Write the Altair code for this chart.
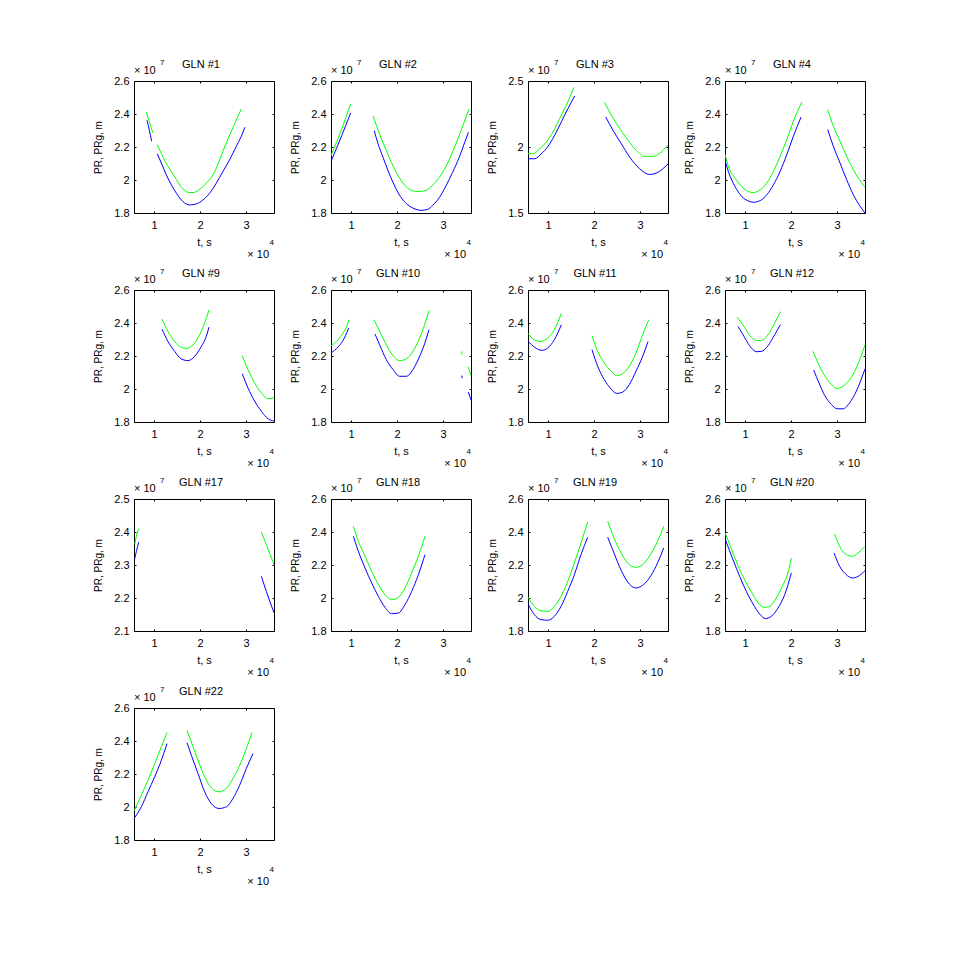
import altair as alt
import pandas as pd

# satellites in subplot order
GLN = [1, 2, 3, 4, 9, 10, 11, 12, 17, 18, 19, 20, 22]

# t in 1e4 s, PR / PRg in 1e7 m; None marks a break in the track
T_PR_1 = [0.848, 0.90, 0.949, None, 1.072, 1.159, 1.268, 1.377, 1.486, 1.63, 1.775, 1.92, 2.065, 2.21, 2.355, 2.5, 2.645, 2.79, 2.899, 2.978]
PR_1 = [2.362, 2.30, 2.235, None, 2.159, 2.103, 2.031, 1.971, 1.92, 1.869, 1.849, 1.855, 1.879, 1.92, 1.981, 2.052, 2.123, 2.204, 2.265, 2.32]
T_PRG_1 = [0.833, 0.90, 0.978, None, 1.072, 1.25, 1.45, 1.6, 1.75, 1.85, 2.0, 2.15, 2.283, 2.536, 2.72, 2.899]
PRG_1 = [2.413, 2.35, 2.285, None, 2.214, 2.11, 2.02, 1.955, 1.925, 1.924, 1.945, 1.985, 2.031, 2.20, 2.32, 2.43]

T_PR_2 = [0.565, 0.8, 0.993, None, 1.504, 1.59, 1.698, 1.806, 1.914, 2.022, 2.129, 2.273, 2.417, 2.525, 2.669, 2.777, 2.921, 3.065, 3.209, 3.353, 3.46, 3.554]
PR_2 = [2.112, 2.27, 2.407, None, 2.30, 2.218, 2.137, 2.056, 1.985, 1.924, 1.879, 1.842, 1.822, 1.816, 1.822, 1.847, 1.893, 1.964, 2.046, 2.137, 2.218, 2.289]
T_PRG_2 = [0.565, 0.8, 0.993, None, 1.482, 1.554, 1.662, 1.77, 1.878, 1.986, 2.094, 2.201, 2.345, 2.489, 2.633, 2.777, 2.921, 3.065, 3.209, 3.353, 3.46, 3.568]
PRG_2 = [2.148, 2.31, 2.462, None, 2.387, 2.33, 2.249, 2.178, 2.107, 2.046, 1.995, 1.96, 1.934, 1.93, 1.938, 1.969, 2.015, 2.082, 2.17, 2.27, 2.35, 2.43]

T_PR_3 = [0.565, 0.71, 0.855, 1.0, 1.145, 1.29, 1.435, 1.58, None, 2.254, 2.413, 2.594, 2.775, 2.993, 3.21, 3.355, 3.61]
PR_3 = [1.911, 1.911, 1.949, 2.005, 2.089, 2.19, 2.292, 2.386, None, 2.228, 2.127, 2.025, 1.924, 1.835, 1.792, 1.802, 1.872]
T_PRG_3 = [0.565, 0.674, 0.819, 0.964, 1.109, 1.254, 1.399, 1.565, None, 2.232, 2.377, 2.558, 2.739, 2.92, 3.101, 3.283, 3.464, 3.61]
PRG_3 = [1.949, 1.949, 1.987, 2.038, 2.114, 2.216, 2.317, 2.452, None, 2.338, 2.241, 2.14, 2.051, 1.975, 1.929, 1.929, 1.962, 2.015]

T_PR_4 = [0.565, 0.64, 0.784, 0.929, 1.074, 1.183, 1.328, 1.473, 1.618, 1.763, 1.908, 2.052, 2.219, None, 2.799, 2.922, 3.067, 3.212, 3.357, 3.61]
PR_4 = [2.12, 2.05, 1.96, 1.90, 1.873, 1.865, 1.875, 1.91, 1.971, 2.052, 2.153, 2.265, 2.381, None, 2.306, 2.204, 2.103, 2.001, 1.91, 1.80]
T_PRG_4 = [0.565, 0.64, 0.784, 0.929, 1.074, 1.183, 1.328, 1.473, 1.618, 1.763, 1.908, 2.052, 2.234, None, 2.799, 2.922, 3.067, 3.212, 3.357, 3.61]
PRG_4 = [2.155, 2.082, 2.011, 1.96, 1.93, 1.924, 1.94, 1.981, 2.052, 2.143, 2.245, 2.356, 2.472, None, 2.427, 2.326, 2.234, 2.143, 2.062, 1.955]

T_PR_9 = [1.174, 1.304, 1.449, 1.594, 1.739, 1.884, 2.029, 2.138, 2.196, None, 2.92, 3.043, 3.188, 3.333, 3.478, 3.61]
PR_9 = [2.363, 2.288, 2.228, 2.182, 2.172, 2.198, 2.258, 2.319, 2.375, None, 2.093, 2.007, 1.927, 1.866, 1.82, 1.806]
T_PRG_9 = [1.174, 1.304, 1.449, 1.594, 1.703, 1.848, 1.993, 2.101, 2.196, None, 2.92, 3.043, 3.188, 3.333, 3.478, 3.61]
PRG_9 = [2.423, 2.349, 2.288, 2.252, 2.246, 2.268, 2.329, 2.399, 2.479, None, 2.202, 2.118, 2.037, 1.977, 1.941, 1.947]

T_PR_10 = [0.565, 0.717, 0.826, 0.935, 0.95, None, 1.522, 1.623, 1.768, 1.913, 2.058, 2.203, 2.348, 2.493, 2.601, 2.696, None, 3.41, 3.418, None, 3.552, 3.61]
PR_10 = [2.218, 2.254, 2.294, 2.359, 2.369, None, 2.333, 2.268, 2.178, 2.118, 2.077, 2.077, 2.118, 2.198, 2.274, 2.359, None, 2.081, 2.065, None, 1.981, 1.933]
T_PRG_10 = [0.565, 0.717, 0.826, 0.935, 0.957, None, 1.5, 1.623, 1.768, 1.913, 2.058, 2.203, 2.348, 2.493, 2.601, 2.696, None, 3.41, 3.418, None, 3.552, 3.61]
PRG_10 = [2.262, 2.298, 2.339, 2.399, 2.419, None, 2.419, 2.349, 2.268, 2.202, 2.172, 2.182, 2.228, 2.309, 2.389, 2.475, None, 2.228, 2.208, None, 2.134, 2.081]

T_PR_11 = [0.565, 0.703, 0.87, 0.993, 1.138, 1.29, None, 1.957, 2.08, 2.225, 2.37, 2.494, 2.624, 2.769, 2.914, 3.059, 3.175]
PR_11 = [2.29, 2.254, 2.234, 2.248, 2.298, 2.389, None, 2.238, 2.138, 2.057, 2.001, 1.973, 1.981, 2.027, 2.108, 2.198, 2.288]
T_PRG_11 = [0.565, 0.703, 0.848, 0.993, 1.138, 1.29, None, 1.957, 2.08, 2.225, 2.37, 2.494, 2.624, 2.769, 2.914, 3.059, 3.19]
PRG_11 = [2.337, 2.298, 2.288, 2.309, 2.359, 2.459, None, 2.323, 2.228, 2.158, 2.108, 2.081, 2.093, 2.138, 2.218, 2.329, 2.419]

T_PR_12 = [0.848, 0.957, 1.102, 1.247, 1.355, 1.5, 1.645, 1.769, None, 2.494, 2.61, 2.733, 2.878, 3.001, 3.132, 3.277, 3.422, 3.61]
PR_12 = [2.379, 2.329, 2.262, 2.226, 2.228, 2.262, 2.329, 2.389, None, 2.114, 2.037, 1.961, 1.907, 1.88, 1.88, 1.917, 1.987, 2.122]
T_PRG_12 = [0.826, 0.957, 1.102, 1.247, 1.355, 1.5, 1.645, 1.769, None, 2.479, 2.588, 2.733, 2.878, 3.001, 3.132, 3.277, 3.422, 3.61]
PRG_12 = [2.435, 2.389, 2.325, 2.294, 2.294, 2.329, 2.399, 2.469, None, 2.228, 2.158, 2.081, 2.027, 2.003, 2.017, 2.057, 2.128, 2.268]

T_PR_17 = [0.58, 0.616, 0.667, None, 3.335, 3.443, 3.61]
PR_17 = [2.319, 2.341, 2.369, None, 2.266, 2.22, 2.155]
T_PRG_17 = [0.58, 0.616, 0.667, None, 3.335, 3.443, 3.61]
PRG_17 = [2.362, 2.387, 2.41, None, 2.40, 2.362, 2.301]

T_PR_18 = [1.051, 1.16, 1.305, 1.45, 1.595, 1.74, 1.885, 2.03, 2.175, 2.32, 2.465, 2.61]
PR_18 = [2.374, 2.283, 2.182, 2.091, 2.01, 1.943, 1.905, 1.909, 1.96, 2.04, 2.141, 2.263]
T_PRG_18 = [1.051, 1.16, 1.305, 1.45, 1.595, 1.74, 1.885, 2.03, 2.175, 2.32, 2.465, 2.61]
PRG_18 = [2.434, 2.343, 2.253, 2.162, 2.081, 2.02, 1.99, 2.004, 2.061, 2.152, 2.253, 2.374]

T_PR_19 = [0.565, 0.703, 0.848, 0.993, 1.138, 1.283, 1.428, 1.573, 1.718, 1.863, None, 2.298, 2.407, 2.552, 2.733, 2.907, 3.059, 3.204, 3.349, 3.516]
PR_19 = [1.965, 1.899, 1.869, 1.865, 1.889, 1.949, 2.04, 2.141, 2.263, 2.368, None, 2.368, 2.293, 2.192, 2.097, 2.061, 2.077, 2.121, 2.192, 2.303]
T_PRG_19 = [0.565, 0.703, 0.848, 0.993, 1.138, 1.283, 1.428, 1.573, 1.718, 1.863, None, 2.298, 2.407, 2.552, 2.733, 2.907, 3.059, 3.204, 3.349, 3.516]
PRG_19 = [2.004, 1.949, 1.923, 1.919, 1.949, 2.01, 2.101, 2.212, 2.333, 2.461, None, 2.465, 2.384, 2.293, 2.212, 2.186, 2.202, 2.253, 2.323, 2.434]

T_PR_20 = [0.565, 0.739, 0.884, 1.029, 1.174, 1.319, 1.45, 1.573, 1.718, 1.863, 2.008, None, 2.936, 3.059, 3.204, 3.334, 3.458, 3.61]
PR_20 = [2.36, 2.232, 2.131, 2.04, 1.964, 1.903, 1.875, 1.889, 1.939, 2.02, 2.152, None, 2.273, 2.192, 2.141, 2.121, 2.131, 2.166]
T_PRG_20 = [0.565, 0.739, 0.884, 1.029, 1.174, 1.319, 1.428, 1.537, 1.682, 1.827, 1.935, 2.008, None, 2.95, 3.059, 3.204, 3.334, 3.458, 3.61]
PRG_20 = [2.395, 2.273, 2.172, 2.091, 2.02, 1.96, 1.943, 1.949, 2.0, 2.081, 2.152, 2.242, None, 2.388, 2.313, 2.263, 2.253, 2.273, 2.313]

T_PR_22 = [0.565, 0.724, 0.869, 1.015, 1.16, 1.283, None, 1.718, 1.812, 1.957, 2.102, 2.247, 2.414, 2.573, 2.718, 2.863, 3.008, 3.153]
PR_22 = [1.93, 2.001, 2.092, 2.183, 2.283, 2.384, None, 2.39, 2.314, 2.203, 2.092, 2.021, 1.991, 2.001, 2.052, 2.132, 2.233, 2.324]
T_PRG_22 = [0.565, 0.724, 0.869, 1.015, 1.16, 1.283, None, 1.718, 1.812, 1.957, 2.102, 2.247, 2.414, 2.573, 2.718, 2.863, 3.008, 3.131]
PRG_22 = [1.975, 2.072, 2.162, 2.263, 2.364, 2.451, None, 2.465, 2.394, 2.283, 2.183, 2.116, 2.092, 2.112, 2.173, 2.253, 2.354, 2.451]

X_TICKS = [1, 2, 3]
T_RANGE = [0.565, 3.61]
Y_TICKS = [1.8, 2.0, 2.2, 2.4, 2.6]
Y_TICKS_3 = [1.5, 2.0, 2.5]
Y_TICKS_17 = [2.1, 2.2, 2.3, 2.4, 2.5]

TRACKS = {
    1: (T_PR_1, PR_1, T_PRG_1, PRG_1, Y_TICKS),
    2: (T_PR_2, PR_2, T_PRG_2, PRG_2, Y_TICKS),
    3: (T_PR_3, PR_3, T_PRG_3, PRG_3, Y_TICKS_3),
    4: (T_PR_4, PR_4, T_PRG_4, PRG_4, Y_TICKS),
    9: (T_PR_9, PR_9, T_PRG_9, PRG_9, Y_TICKS),
    10: (T_PR_10, PR_10, T_PRG_10, PRG_10, Y_TICKS),
    11: (T_PR_11, PR_11, T_PRG_11, PRG_11, Y_TICKS),
    12: (T_PR_12, PR_12, T_PRG_12, PRG_12, Y_TICKS),
    17: (T_PR_17, PR_17, T_PRG_17, PRG_17, Y_TICKS_17),
    18: (T_PR_18, PR_18, T_PRG_18, PRG_18, Y_TICKS),
    19: (T_PR_19, PR_19, T_PRG_19, PRG_19, Y_TICKS),
    20: (T_PR_20, PR_20, T_PRG_20, PRG_20, Y_TICKS),
    22: (T_PR_22, PR_22, T_PRG_22, PRG_22, Y_TICKS),
}

W, H = 140, 132
FONT = "Liberation Sans"
NARROW = "Liberation Sans Narrow, Liberation Sans"


def to_frame(t, v):
    # split the track on None into separate line segments
    rows, seg = [], 0
    for ti, vi in zip(t, v):
        if ti is None:
            seg += 1
            continue
        rows.append({"t": ti, "v": vi, "seg": seg})
    return pd.DataFrame(rows)


def label(text, x, y, size=11, align="left"):
    return alt.Chart(pd.DataFrame({"s": [text]})).mark_text(
        align=align, baseline="middle", font=FONT, fontSize=size, color="black"
    ).encode(x=alt.value(x), y=alt.value(y), text="s:N")


def panel(n):
    t_pr, pr, t_prg, prg, yticks = TRACKS[n]
    xs = alt.Scale(domain=T_RANGE, nice=False, zero=False)
    ys = alt.Scale(domain=[yticks[0], yticks[-1]], nice=False, zero=False)
    # matlab style ticks pointing into the box
    inner = dict(domain=False, ticks=True, tickSize=2, tickColor="black", tickWidth=1, offset=-2, grid=False)

    blue = alt.Chart(to_frame(t_pr, pr)).mark_line(
        color="#0000ff", strokeWidth=1, interpolate="monotone", clip=True
    ).encode(
        x=alt.X("t:Q", scale=xs, axis=alt.Axis(orient="bottom", values=X_TICKS, format="~g",
                                                 title="t, s", labelPadding=6, titlePadding=6, **inner)),
        y=alt.Y("v:Q", scale=ys, axis=alt.Axis(orient="left", values=yticks, format="~g",
                                                 title="PR, PRg, m", labelPadding=5, titlePadding=10,
                                                 titleFont=NARROW, titleFontSize=10, **inner)),
        detail="seg:N",
    )
    green = alt.Chart(to_frame(t_prg, prg)).mark_line(
        color="#00ff00", strokeWidth=1, interpolate="monotone", clip=True
    ).encode(
        x=alt.X("t:Q", scale=xs, axis=alt.Axis(orient="top", values=X_TICKS, labels=False, title="", **inner)),
        y=alt.Y("v:Q", scale=ys, axis=alt.Axis(orient="right", values=yticks, labels=False, title="", **inner)),
        detail="seg:N",
    )

    notes = [
        label(f"GLN #{n}", W / 2 - 3, -16, align="center"),
        label("× 10", 0, -10),
        label("7", 26, -18, size=8),
        label("× 10", W - 5, H + 42, align="right"),
        label("4", W, H + 30, size=8, align="right"),
    ]
    return alt.layer(blue, green, *notes).resolve_axis(x="independent", y="independent").properties(width=W, height=H)


chart = alt.concat(
    *[panel(n) for n in GLN], columns=4, spacing={"row": 77, "column": 57}, bounds="flush"
).properties(
    padding={"left": 85, "top": 50, "right": 10, "bottom": 10}, background="white"
).configure_view(
    stroke="black", strokeWidth=1
).configure_axis(
    labelFont=FONT, titleFont=FONT, labelFontSize=11, titleFontSize=11,
    labelColor="black", titleColor="black", titleFontWeight="normal"
)

chart.save("out.html", embed_options={"renderer": "svg", "actions": False})
